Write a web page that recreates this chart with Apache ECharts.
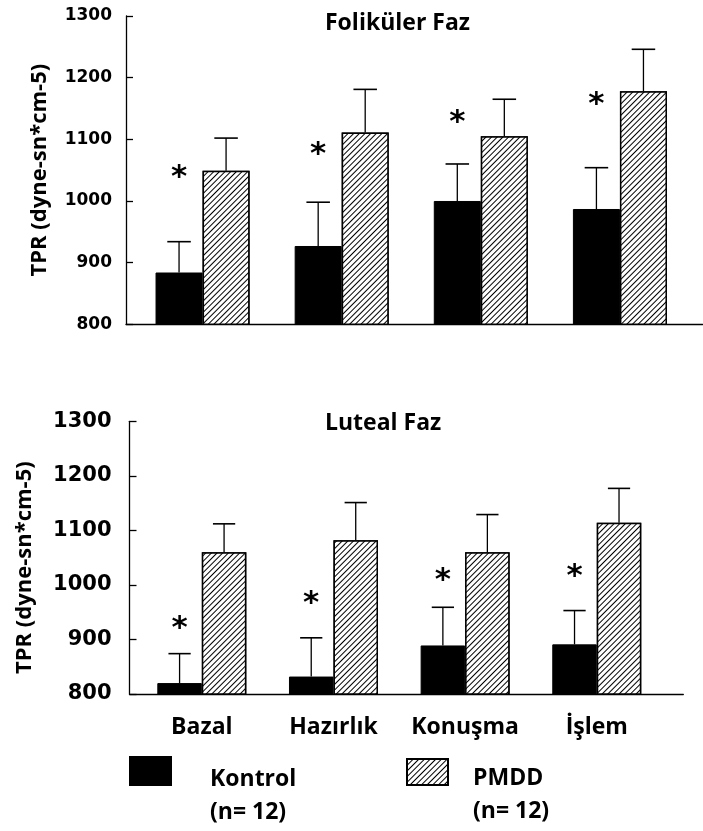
<!DOCTYPE html>
<html>
<head>
<meta charset="utf-8">
<script src="https://cdn.jsdelivr.net/npm/echarts@6/dist/echarts.min.js"></script>
<style>
html,body{margin:0;padding:0;background:#fff;}
#chart{width:703px;height:831px;}
</style>
</head>
<body>
<div id="chart"></div>
<script>
// kategoriler
var categories = ['Bazal', 'Hazırlık', 'Konuşma', 'İşlem'];
var yTicks = [800, 900, 1000, 1100, 1200, 1300];

// Foliküler faz
var folKontrol = [884, 927, 1000, 987];
var folKontrolSd = [50, 71, 60, 67];
var folPmdd = [1049, 1111, 1105, 1178];
var folPmddSd = [53, 70, 60, 68];
var folStar = [1047, 1084, 1137, 1165];

// Luteal faz
var lutKontrol = [820, 832, 889, 891];
var lutKontrolSd = [54, 71, 70, 62];
var lutPmdd = [1060, 1082, 1060, 1114];
var lutPmddSd = [52, 69, 69, 63];
var lutStar = [930, 976, 1018, 1026];

var BAR_W = 0.338;
var FONT = '"Open Sans", sans-serif';

var myChart = echarts.init(document.getElementById('chart'));

var hatch = {
    symbol: 'rect', symbolSize: 1, color: '#000', backgroundColor: '#fff',
    dashArrayX: [1, 0], dashArrayY: [1, 2.6], rotation: -Math.PI / 4
};

function errData(mean, sd) {
    return mean.map(function (v, i) { return [i, v, sd[i]]; });
}
function starData(vals) {
    return vals.map(function (v, i) { return [i, v]; });
}

function errorBar(side) {
    return function (params, api) {
        var idx = api.value(0);
        var mean = api.value(1);
        var sd = api.value(2);
        var bw = api.size([1, 0])[0] * BAR_W;
        var base = api.coord([idx, mean]);
        var top = api.coord([idx, mean + sd]);
        var x = base[0] + side * bw / 2;
        var cap = bw * 0.25;
        return {
            type: 'group',
            children: [
                {type: 'line', shape: {x1: x, y1: base[1], x2: x, y2: top[1]}, style: {stroke: '#000', lineWidth: 1.3}},
                {type: 'line', shape: {x1: x - cap, y1: top[1], x2: x + cap, y2: top[1]}, style: {stroke: '#000', lineWidth: 1.6}}
            ]
        };
    };
}

function starItem(params, api) {
    var bw = api.size([1, 0])[0] * BAR_W;
    var p = api.coord([api.value(0), api.value(1)]);
    return {
        type: 'text', x: p[0] - bw / 2, y: p[1] + 6,
        style: {text: '*', font: 'bold 31px "DejaVu Sans"', fill: '#000', align: 'center', verticalAlign: 'middle'}
    };
}

function yAxisCfg(grid, offset, fontSize, margin, nameGap, namePad) {
    return {
        gridIndex: grid, type: 'value', min: yTicks[0], max: yTicks[yTicks.length - 1], interval: 100,
        offset: offset,
        name: 'TPR (dyne-sn*cm-5)', nameLocation: 'middle', nameRotate: 90, nameGap: nameGap,
        nameTextStyle: {fontFamily: FONT, fontWeight: 'bold', fontSize: 22, color: '#000', padding: namePad},
        axisLine: {show: true, lineStyle: {color: '#000', width: 1.3}},
        axisTick: {show: true, inside: true, length: 7, lineStyle: {color: '#000', width: 1.3}},
        axisLabel: {
            fontFamily: '"DejaVu Sans"', fontWeight: 'bold', fontSize: fontSize, color: '#000', margin: margin, padding: [6, 0, 0, 0],
            formatter: function (v) { return String(v); }
        },
        splitLine: {show: false}
    };
}

function catAxisCfg(grid, showLabel) {
    return {
        gridIndex: grid, type: 'category', data: categories,
        axisLine: {show: false}, axisTick: {show: false},
        axisLabel: {show: showLabel, interval: 0, fontFamily: FONT, fontWeight: 'bold', fontSize: 23, color: '#000', margin: 22},
        splitLine: {show: false}
    };
}

function baseAxisCfg(grid) {
    return {
        gridIndex: grid, type: 'value', min: 0, max: 1,
        axisLine: {show: true, onZero: false, lineStyle: {color: '#000', width: 1.3}},
        axisTick: {show: false}, axisLabel: {show: false}, splitLine: {show: false}
    };
}

function hiddenAxis(grid) {
    return {gridIndex: grid, type: 'value', min: 0, max: 1, show: false};
}

function legendCfg(name, left, top, h, gapH, padLeft) {
    return {
        data: [name], left: left, top: top, padding: 0, itemWidth: 41, itemHeight: h, icon: 'rect', selectedMode: false,
        formatter: '{gap| }\n{t|{name}}\n{t|(n= 12)}'.replace('{name}', name),
        textStyle: {
            padding: [0, 0, 0, padLeft],
            rich: {
                gap: {fontSize: 1, lineHeight: gapH},
                t: {fontFamily: FONT, fontWeight: 'bold', fontSize: 23, color: '#000', lineHeight: 33}
            }
        }
    };
}

var barK = {color: '#000', borderColor: '#000', borderWidth: 1};
var barP = {color: '#fff', borderColor: '#000', borderWidth: 1.5, decal: hatch};

var option = {
    backgroundColor: '#fff',
    animation: false,
    graphic: [
        {type: 'text', left: 325, top: 12, style: {text: 'Foliküler Faz', font: 'bold 23px ' + FONT, fill: '#000'}},
        {type: 'text', left: 325, top: 412, style: {text: 'Luteal Faz', font: 'bold 23px ' + FONT, fill: '#000'}}
    ],
    legend: [
        legendCfg('Kontrol', 129, 737.5, 28, 49, 34),
        legendCfg('PMDD', 406, 738.5, 26, 45, 20)
    ],
    grid: [
        {left: 133, right: 13.5, top: 16, bottom: 506.7},
        {left: 136, right: 40.4, top: 421.3, bottom: 137},
        {left: 126, right: 0.3, top: 16, bottom: 506.7},
        {left: 129.5, right: 19.7, top: 421.3, bottom: 137}
    ],
    xAxis: [catAxisCfg(0, false), catAxisCfg(1, true), baseAxisCfg(2), baseAxisCfg(3)],
    yAxis: [
        yAxisCfg(0, 7, 17, 14, 75, [0, 0, 0, 0]),
        yAxisCfg(1, 6.5, 21, 18, 94, [0, 20, 0, 0]),
        hiddenAxis(2), hiddenAxis(3)
    ],
    series: [
        {name: 'Kontrol', type: 'bar', xAxisIndex: 0, yAxisIndex: 0, barWidth: '33.8%', barGap: '0%', itemStyle: barK, data: folKontrol},
        {name: 'PMDD', type: 'bar', xAxisIndex: 0, yAxisIndex: 0, barWidth: '33.8%', barGap: '0%', itemStyle: barP, data: folPmdd},
        {name: 'Kontrol', type: 'bar', xAxisIndex: 1, yAxisIndex: 1, barWidth: '33.8%', barGap: '0%', itemStyle: barK, data: lutKontrol},
        {name: 'PMDD', type: 'bar', xAxisIndex: 1, yAxisIndex: 1, barWidth: '33.8%', barGap: '0%', itemStyle: barP, data: lutPmdd},
        {type: 'custom', xAxisIndex: 0, yAxisIndex: 0, renderItem: errorBar(-1), data: errData(folKontrol, folKontrolSd), z: 5},
        {type: 'custom', xAxisIndex: 0, yAxisIndex: 0, renderItem: errorBar(1), data: errData(folPmdd, folPmddSd), z: 5},
        {type: 'custom', xAxisIndex: 1, yAxisIndex: 1, renderItem: errorBar(-1), data: errData(lutKontrol, lutKontrolSd), z: 5},
        {type: 'custom', xAxisIndex: 1, yAxisIndex: 1, renderItem: errorBar(1), data: errData(lutPmdd, lutPmddSd), z: 5},
        {type: 'custom', xAxisIndex: 0, yAxisIndex: 0, renderItem: starItem, data: starData(folStar), z: 6},
        {type: 'custom', xAxisIndex: 1, yAxisIndex: 1, renderItem: starItem, data: starData(lutStar), z: 6}
    ]
};

myChart.setOption(option);
</script>
</body>
</html>
